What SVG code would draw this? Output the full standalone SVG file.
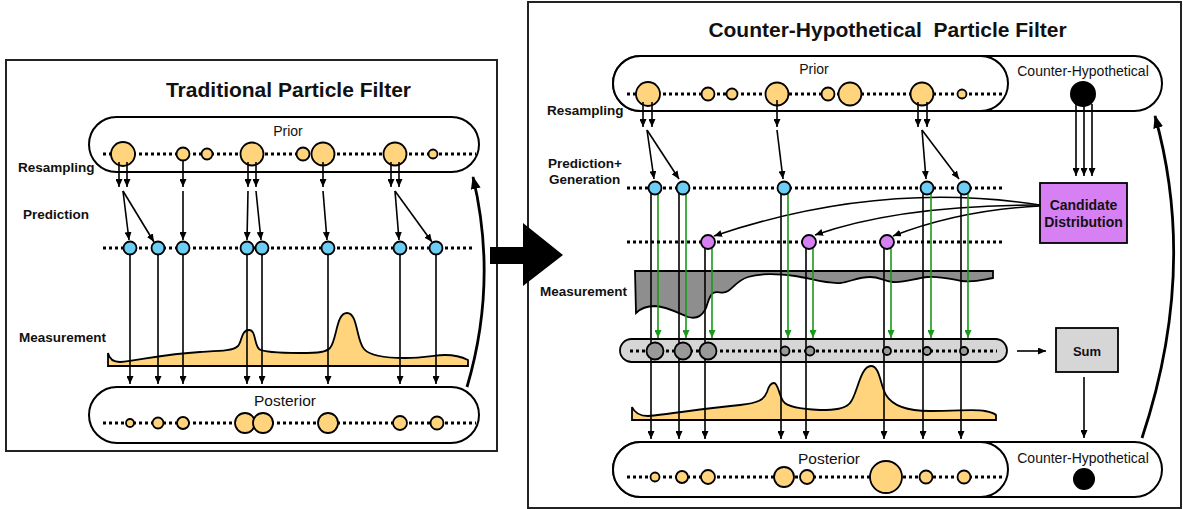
<svg xmlns="http://www.w3.org/2000/svg" width="1183" height="509" viewBox="0 0 1183 509">
<style>
.frame{fill:#fff;stroke:#222;stroke-width:2}
.pill{fill:#fff;stroke:#000;stroke-width:2}
.dots{stroke:#000;stroke-width:3;stroke-dasharray:3 3;fill:none}
.py{fill:#FFD47C;stroke:#000;stroke-width:1.8}
.pb{fill:#6CCEF5;stroke:#000;stroke-width:1.8}
.pp{fill:#D680F3;stroke:#000;stroke-width:1.8}
.pg{fill:#999;stroke:#000;stroke-width:1.8}
.pk{fill:#000}
.ln{stroke:#000;stroke-width:1.6;fill:none;marker-end:url(#ah)}
.gl{stroke:#1a9a1a;stroke-width:1.6;fill:none;marker-end:url(#ahg)}
.big{stroke:#000;stroke-width:2.8;fill:none;marker-end:url(#ahb)}
.meas{fill:#FFD47C;stroke:#000;stroke-width:1.8}
.measg{fill:#8E8E8E;stroke:#000;stroke-width:1.8}
.box{stroke:#000;stroke-width:1.8}
.t{font-family:"Liberation Sans",Arial,sans-serif;fill:#111}
.title{font-size:21px;font-weight:bold;text-anchor:middle}
.lbl{font-size:13.5px;font-weight:bold}
.reg{font-size:14px;text-anchor:middle}
.post{font-size:15.5px;text-anchor:middle}
.bx{font-size:14px;font-weight:bold;text-anchor:middle}
</style>
<defs>
<marker id="ah" viewBox="0 0 8 7" refX="8" refY="3.5" markerWidth="8" markerHeight="7" markerUnits="userSpaceOnUse" orient="auto"><path d="M0,0 L8,3.5 L0,7 z" fill="#000"/></marker>
<marker id="ahg" viewBox="0 0 8 7" refX="8" refY="3.5" markerWidth="8" markerHeight="7" markerUnits="userSpaceOnUse" orient="auto"><path d="M0,0 L8,3.5 L0,7 z" fill="#1a9a1a"/></marker>
<marker id="ahb" viewBox="0 0 13 10" refX="12" refY="5" markerWidth="13" markerHeight="10" markerUnits="userSpaceOnUse" orient="auto"><path d="M0,0 L13,5 L0,10 z" fill="#000"/></marker>
</defs>
<rect width="1183" height="509" fill="#fff"/>

<!-- LEFT PANEL -->
<g id="left-panel">
<rect class="frame" x="6" y="60" width="491" height="391"/>
<text class="t title" x="288.5" y="97">Traditional Particle Filter</text>
<text class="t lbl" x="18" y="172">Resampling</text>
<text class="t lbl" x="23" y="219">Prediction</text>
<text class="t lbl" x="19" y="342">Measurement</text>
</g>

<g id="left-prior">
<rect class="pill" x="89" y="117" width="390" height="55" rx="27.5"/>
<text class="t reg" x="288" y="136">Prior</text>
<line class="dots" x1="103" y1="154" x2="476" y2="154"/>
<circle class="py" cx="123" cy="154" r="12"/>
<circle class="py" cx="183" cy="154" r="6.5"/>
<circle class="py" cx="207" cy="154" r="5.5"/>
<circle class="py" cx="252" cy="154" r="11.5"/>
<circle class="py" cx="303" cy="154" r="6.5"/>
<circle class="py" cx="323" cy="154" r="11.5"/>
<circle class="py" cx="395" cy="154" r="11.5"/>
<circle class="py" cx="433" cy="154" r="4.5"/>
</g>

<g id="left-measurement">
<path class="meas" d="M108,366 L108,353 Q110,362 120,362 C140,360 165,354 200,352 C220,351 233,351 238,346 C242,342 241,330 249,330 C256,330 254,344 259,349 C263,352 280,353 300,353 C320,353 326,352 330,348 C337,340 336,313 347,313 C358,313 356,340 364,349 C370,356 385,358 405,358 C425,358 435,355 445,355 C455,355 462,357 468,360 L468,366 Z"/>
</g>

<g id="left-connectors">
<line class="ln" x1="119" y1="162" x2="119" y2="187"/>
<line class="ln" x1="127" y1="162" x2="127" y2="187"/>
<line class="ln" x1="183" y1="160" x2="183" y2="187"/>
<line class="ln" x1="248" y1="162" x2="248" y2="187"/>
<line class="ln" x1="256" y1="162" x2="256" y2="187"/>
<line class="ln" x1="323" y1="162" x2="323" y2="187"/>
<line class="ln" x1="391" y1="162" x2="391" y2="187"/>
<line class="ln" x1="399" y1="162" x2="399" y2="187"/>
<line class="ln" x1="123" y1="191" x2="129" y2="240"/>
<line class="ln" x1="123" y1="191" x2="154" y2="242"/>
<line class="ln" x1="183" y1="191" x2="183" y2="240"/>
<line class="ln" x1="248" y1="191" x2="247" y2="240"/>
<line class="ln" x1="256" y1="191" x2="261" y2="240"/>
<line class="ln" x1="323" y1="191" x2="327" y2="240"/>
<line class="ln" x1="395" y1="191" x2="399" y2="240"/>
<line class="ln" x1="395" y1="191" x2="432" y2="242"/>
<line class="ln" x1="130" y1="254" x2="130" y2="384"/>
<line class="ln" x1="158" y1="254" x2="158" y2="384"/>
<line class="ln" x1="183" y1="254" x2="183" y2="384"/>
<line class="ln" x1="247" y1="254" x2="247" y2="384"/>
<line class="ln" x1="262" y1="254" x2="262" y2="384"/>
<line class="ln" x1="328" y1="254" x2="328" y2="384"/>
<line class="ln" x1="400" y1="254" x2="400" y2="384"/>
<line class="ln" x1="436" y1="254" x2="436" y2="384"/>
<path class="big" d="M467,387 Q498,282 473,177"/>
</g>

<g id="left-prediction">
<line class="dots" x1="103" y1="248" x2="473" y2="248"/>
<circle class="pb" cx="130" cy="248" r="6.5"/>
<circle class="pb" cx="158" cy="248" r="6.5"/>
<circle class="pb" cx="183" cy="248" r="6.5"/>
<circle class="pb" cx="247" cy="248" r="6.5"/>
<circle class="pb" cx="262" cy="248" r="6.5"/>
<circle class="pb" cx="328" cy="248" r="6.5"/>
<circle class="pb" cx="400" cy="248" r="6.5"/>
<circle class="pb" cx="436" cy="248" r="6.5"/>
</g>

<g id="left-posterior">
<rect class="pill" x="89" y="387" width="390" height="56" rx="28"/>
<text class="t post" x="285" y="406">Posterior</text>
<line class="dots" x1="103" y1="423" x2="476" y2="423"/>
<circle class="py" cx="130" cy="423" r="4"/>
<circle class="py" cx="158" cy="423" r="5.5"/>
<circle class="py" cx="183" cy="423" r="6"/>
<circle class="py" cx="245" cy="423" r="10"/>
<circle class="py" cx="263" cy="423" r="10"/>
<circle class="py" cx="328" cy="423" r="10"/>
<circle class="py" cx="400" cy="423" r="7"/>
<circle class="py" cx="437" cy="423" r="6.5"/>
</g>

<!-- RIGHT PANEL -->
<g id="right-panel">
<rect class="frame" x="528" y="2" width="653" height="506"/>
<text class="t title" x="887.5" y="37" xml:space="preserve">Counter-Hypothetical  Particle Filter</text>
<text class="t lbl" x="547" y="115">Resampling</text>
<text class="t lbl" x="548" y="168">Prediction+</text>
<text class="t lbl" x="549" y="184">Generation</text>
<text class="t lbl" x="540" y="296">Measurement</text>
</g>

<g id="right-prior">
<rect class="pill" x="613" y="56" width="549" height="55" rx="27.5"/>
<rect class="pill" x="613" y="56" width="395" height="55" rx="27.5"/>
<text class="t reg" x="814" y="74">Prior</text>
<text class="t reg" x="1083" y="76">Counter-Hypothetical</text>
<circle class="pk" cx="1083" cy="94" r="13"/>
<line class="dots" x1="627" y1="94" x2="1003" y2="94"/>
<circle class="py" cx="648" cy="94" r="12"/>
<circle class="py" cx="708" cy="94" r="6.5"/>
<circle class="py" cx="732" cy="94" r="5.5"/>
<circle class="py" cx="777" cy="94" r="11.5"/>
<circle class="py" cx="828" cy="94" r="6.5"/>
<circle class="py" cx="850" cy="94" r="11.5"/>
<circle class="py" cx="922" cy="94" r="11.5"/>
<circle class="py" cx="962" cy="94" r="4.5"/>
</g>

<g id="right-measurements">
<path class="measg" d="M635,271 L993,271 L993,278 C985,279 975,283 962,281 C950,279 940,276 928,277 C915,278 905,283 893,282 C883,281 880,277 870,277 C858,277 850,282 840,283 C825,284 810,278 795,276 C780,274 760,273 748,277 C738,280 733,288 728,291 C722,295 718,290 713,293 C708,297 708,305 705,310 C701,317 695,319 688,317 C678,313 668,307 655,306 C645,306 640,309 636,313 Z"/>
<path class="meas" d="M632,420 L632,407 Q636,416 648,416 C670,414 700,409 740,405 C758,403 764,400 767,392 C769,385 771,383 774,383 C778,383 779,395 783,401 C787,407 800,409 820,410 C835,410 845,409 850,403 C857,396 860,366 871,366 C880,366 880,385 886,395 C892,405 905,411 930,411 C960,411 975,409 985,411 C990,412 994,413 996,415 L996,420 Z"/>
</g>

<g id="likelihood-bar">
<rect x="620" y="339" width="387" height="23" rx="11.5" fill="#D6D6D6" stroke="#000" stroke-width="1.8"/>
</g>

<g id="right-connectors">
<line class="ln" x1="643" y1="102" x2="643" y2="127"/>
<line class="ln" x1="652" y1="102" x2="652" y2="127"/>
<line class="ln" x1="777" y1="100" x2="777" y2="127"/>
<line class="ln" x1="918" y1="102" x2="918" y2="127"/>
<line class="ln" x1="927" y1="102" x2="927" y2="127"/>
<line class="ln" x1="1076" y1="104" x2="1076" y2="176"/>
<line class="ln" x1="1084" y1="104" x2="1084" y2="176"/>
<line class="ln" x1="1092" y1="104" x2="1092" y2="176"/>
<line class="ln" x1="647" y1="130" x2="654" y2="179"/>
<line class="ln" x1="647" y1="130" x2="679" y2="179"/>
<line class="ln" x1="777" y1="130" x2="783" y2="179"/>
<line class="ln" x1="922" y1="130" x2="926" y2="179"/>
<line class="ln" x1="922" y1="130" x2="959" y2="179"/>
<path class="ln" d="M1040,205 Q880,180 714,236"/>
<path class="ln" d="M1040,205 Q900,205 815,235"/>
<path class="ln" d="M1040,206 Q960,210 893,236"/>
<line class="ln" x1="651" y1="192" x2="651" y2="439"/>
<line class="ln" x1="679" y1="192" x2="679" y2="439"/>
<line class="ln" x1="705" y1="246" x2="705" y2="439"/>
<line class="ln" x1="781" y1="192" x2="781" y2="439"/>
<line class="ln" x1="806" y1="246" x2="806" y2="439"/>
<line class="ln" x1="884" y1="246" x2="884" y2="439"/>
<line class="ln" x1="923" y1="192" x2="923" y2="439"/>
<line class="ln" x1="961" y1="192" x2="961" y2="439"/>
<line class="gl" x1="658" y1="193" x2="658" y2="338"/>
<line class="gl" x1="686" y1="193" x2="686" y2="338"/>
<line class="gl" x1="712" y1="247" x2="712" y2="338"/>
<line class="gl" x1="788" y1="193" x2="788" y2="338"/>
<line class="gl" x1="813" y1="247" x2="813" y2="338"/>
<line class="gl" x1="891" y1="247" x2="891" y2="338"/>
<line class="gl" x1="931" y1="193" x2="931" y2="338"/>
<line class="gl" x1="968" y1="193" x2="968" y2="338"/>
<line class="ln" x1="1017" y1="351" x2="1046" y2="351"/>
<line class="ln" x1="1084" y1="377" x2="1084" y2="438"/>
<path class="big" d="M1142,438 Q1198,270 1155,116"/>
</g>

<g id="right-prediction">
<line class="dots" x1="627" y1="188" x2="1003" y2="188"/>
<circle class="pb" cx="655" cy="188" r="6.5"/>
<circle class="pb" cx="683" cy="188" r="6.5"/>
<circle class="pb" cx="784" cy="188" r="6.5"/>
<circle class="pb" cx="927" cy="188" r="6.5"/>
<circle class="pb" cx="964" cy="188" r="6.5"/>
</g>

<g id="right-generation">
<line class="dots" x1="627" y1="242" x2="1003" y2="242"/>
<circle class="pp" cx="708" cy="242" r="7"/>
<circle class="pp" cx="809" cy="242" r="7"/>
<circle class="pp" cx="887" cy="242" r="7"/>
</g>

<g id="candidate-distribution">
<rect class="box" x="1040" y="183" width="87" height="60" fill="#D680F3"/>
<text class="t bx" x="1083.5" y="210">Candidate</text>
<text class="t bx" x="1083.5" y="227">Distribution</text>
</g>

<g id="likelihood-particles">
<line class="dots" x1="630" y1="351" x2="997" y2="351"/>
<circle class="pg" cx="655" cy="351" r="8.5"/>
<circle class="pg" cx="683" cy="351" r="8.5"/>
<circle class="pg" cx="708" cy="351" r="8.5"/>
<circle class="pg" cx="785" cy="351" r="4.5"/>
<circle class="pg" cx="810" cy="351" r="4.5"/>
<circle class="pg" cx="887" cy="351" r="4"/>
<circle class="pg" cx="927" cy="351" r="4"/>
<circle class="pg" cx="964" cy="351" r="4"/>
</g>

<g id="sum">
<rect class="box" x="1056" y="328" width="62" height="44" fill="#D6D6D6"/>
<text class="t bx" x="1087" y="356" style="font-size:13px">Sum</text>
</g>

<g id="right-posterior">
<rect class="pill" x="613" y="442" width="549" height="55" rx="27.5"/>
<rect class="pill" x="613" y="442" width="395" height="55" rx="27.5"/>
<text class="t post" x="829" y="464">Posterior</text>
<text class="t reg" x="1083" y="463">Counter-Hypothetical</text>
<circle class="pk" cx="1084" cy="479" r="11"/>
<line class="dots" x1="627" y1="477" x2="1003" y2="477"/>
<circle class="py" cx="655" cy="477" r="4.5"/>
<circle class="py" cx="682" cy="477" r="6"/>
<circle class="py" cx="708" cy="477" r="7"/>
<circle class="py" cx="784" cy="477" r="10"/>
<circle class="py" cx="807" cy="477" r="7"/>
<circle class="py" cx="886" cy="477" r="16"/>
<circle class="py" cx="926" cy="477" r="6.5"/>
<circle class="py" cx="964" cy="477" r="6.5"/>
</g>

<g id="transition-arrow">
<path d="M490,247 L523,247 L523,223 L563,255 L523,286 L523,264 L490,264 Z" fill="#000"/>
</g>
</svg>
